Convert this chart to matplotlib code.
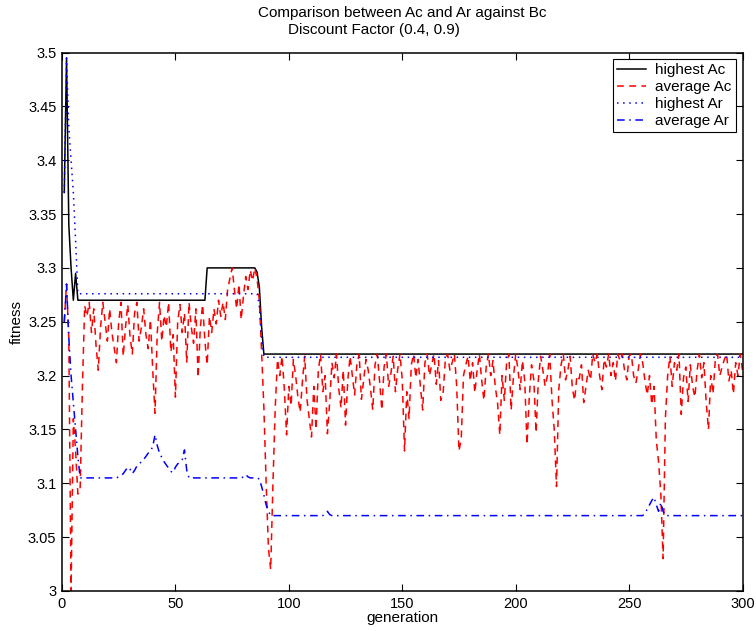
import matplotlib
matplotlib.use('Agg')
import matplotlib.pyplot as plt
from matplotlib.ticker import FormatStrFormatter

plt.rcParams['font.family'] = ['Liberation Sans', 'DejaVu Sans']

# generations 1..300
generations = list(range(1, 301))

highest_ac = ([3.37, 3.495, 3.34, 3.30, 3.27, 3.295]
              + [3.27] * 57
              + [3.30] * 22
              + [3.296, 3.282, 3.245]
              + [3.22] * 212)

highest_ar = ([3.37, 3.495, 3.43, 3.40, 3.37, 3.325]
              + [3.276] * 80
              + [3.265, 3.235]
              + [3.217] * 212)

average_ar = ([3.25, 3.285, 3.235, 3.20, 3.175, 3.15, 3.125, 3.105]
              + [3.105] * 16
              + [3.106, 3.107, 3.109, 3.112, 3.115, 3.113, 3.109, 3.112, 3.116,
                 3.118, 3.120, 3.122, 3.125, 3.128, 3.130, 3.134, 3.145]
              + [3.135, 3.128, 3.124, 3.120, 3.117, 3.114, 3.111, 3.110, 3.115,
                 3.118, 3.120, 3.122, 3.131, 3.112, 3.105]
              + [3.105] * 23
              + [3.106, 3.108, 3.106]
              + [3.105] * 4
              + [3.104, 3.097, 3.089, 3.080, 3.074]
              + [3.07] * 24
              + [3.072, 3.074, 3.071]
              + [3.07] * 138
              + [3.072, 3.076, 3.080, 3.084, 3.087, 3.080, 3.074, 3.082, 3.074]
              + [3.07] * 35)

average_ac = [
    3.250, 3.285, 3.235, 3.000, 3.160, 3.130, 3.090, 3.095, 3.190, 3.265,
    3.255, 3.268, 3.240, 3.262, 3.228, 3.205, 3.245, 3.268, 3.250, 3.232,
    3.262, 3.240, 3.226, 3.212, 3.250, 3.268, 3.218, 3.245, 3.266, 3.236,
    3.220, 3.258, 3.268, 3.232, 3.245, 3.262, 3.238, 3.225, 3.252, 3.205,
    3.165, 3.240, 3.268, 3.232, 3.256, 3.245, 3.268, 3.222, 3.238, 3.180,
    3.250, 3.266, 3.240, 3.258, 3.212, 3.268, 3.245, 3.230, 3.262, 3.198,
    3.245, 3.266, 3.232, 3.210, 3.255, 3.240, 3.262, 3.248, 3.270, 3.255,
    3.268, 3.252, 3.280, 3.290, 3.300, 3.280, 3.262, 3.285, 3.252, 3.274,
    3.292, 3.280, 3.298, 3.288, 3.300, 3.290, 3.270, 3.222, 3.170, 3.100,
    3.040, 3.020, 3.100, 3.170, 3.215, 3.200, 3.218, 3.188, 3.145, 3.190,
    3.172, 3.215, 3.200, 3.180, 3.166, 3.195, 3.218, 3.178, 3.160, 3.143,
    3.190, 3.150, 3.205, 3.220, 3.185, 3.200, 3.146, 3.175, 3.212, 3.198,
    3.220, 3.188, 3.170, 3.205, 3.154, 3.196, 3.218, 3.200, 3.182, 3.210,
    3.220, 3.178, 3.196, 3.215, 3.205, 3.188, 3.168, 3.210, 3.220, 3.195,
    3.168, 3.208, 3.220, 3.190, 3.202, 3.218, 3.185, 3.206, 3.220, 3.196,
    3.130, 3.185, 3.160, 3.210, 3.220, 3.198, 3.215, 3.190, 3.168, 3.212,
    3.220, 3.200, 3.210, 3.220, 3.192, 3.214, 3.177, 3.183, 3.215, 3.220,
    3.205, 3.212, 3.220, 3.190, 3.130, 3.141, 3.200, 3.210, 3.218, 3.195,
    3.212, 3.184, 3.205, 3.220, 3.196, 3.177, 3.208, 3.220, 3.200, 3.214,
    3.190, 3.175, 3.145, 3.200, 3.177, 3.212, 3.220, 3.168, 3.198, 3.220,
    3.206, 3.187, 3.214, 3.195, 3.136, 3.180, 3.210, 3.196, 3.147, 3.196,
    3.218, 3.205, 3.190, 3.200, 3.220, 3.178, 3.150, 3.097, 3.187, 3.210,
    3.220, 3.196, 3.205, 3.218, 3.188, 3.177, 3.200, 3.197, 3.210, 3.175,
    3.190, 3.205, 3.196, 3.220, 3.212, 3.220, 3.200, 3.187, 3.215, 3.208,
    3.220, 3.200, 3.212, 3.195, 3.220, 3.214, 3.220, 3.205, 3.196, 3.218,
    3.220, 3.200, 3.193, 3.205, 3.220, 3.212, 3.195, 3.182, 3.200, 3.173,
    3.190, 3.140, 3.120, 3.090, 3.030, 3.160, 3.200, 3.218, 3.190, 3.212,
    3.205, 3.220, 3.164, 3.198, 3.208, 3.176, 3.210, 3.190, 3.180, 3.205,
    3.220, 3.198, 3.212, 3.175, 3.150, 3.200, 3.183, 3.214, 3.220, 3.200,
    3.208, 3.215, 3.220, 3.195, 3.205, 3.183, 3.212, 3.200, 3.220, 3.205,
]

x_ticks = [0, 50, 100, 150, 200, 250, 300]
y_ticks = [3.0, 3.05, 3.1, 3.15, 3.2, 3.25, 3.3, 3.35, 3.4, 3.45, 3.5]

fig = plt.figure(figsize=(7.56, 6.31), dpi=100)
ax = fig.add_axes([62 / 756, 40 / 631, 680.5 / 756, 538.5 / 631])

ax.plot(generations, highest_ac, color='black', lw=1.1, label='highest Ac')
ax.plot(generations, average_ac, color='red', lw=1.1, dashes=(4.5, 3.5), label='average Ac')
ax.plot(generations, highest_ar, color='blue', lw=1.1, dashes=(1, 3), label='highest Ar')
ax.plot(generations, average_ar, color='blue', lw=1.1, dashes=(5, 3, 1, 3), label='average Ar')

ax.set_xlim(0, 300)
ax.set_ylim(3.0, 3.5)
ax.set_xticks(x_ticks)
ax.set_yticks(y_ticks)
ax.yaxis.set_major_formatter(FormatStrFormatter('%g'))
ax.tick_params(direction='in', top=True, right=True, length=5, width=0.8,
               labelsize=10.5, pad=4)
for s in ax.spines.values():
    s.set_linewidth(1.1)

ax.set_xlabel('generation', fontsize=11, labelpad=0)
ax.set_ylabel('fitness', fontsize=11, labelpad=3)

fig.text(0.532, 0.980, 'Comparison between Ac and Ar against Bc', ha='center', va='center', fontsize=11)
fig.text(0.495, 0.953, 'Discount Factor (0.4, 0.9)', ha='center', va='center', fontsize=11)

leg = ax.legend(loc='upper right', fontsize=11, fancybox=False, framealpha=1,
                edgecolor='black', handlelength=1.9, handletextpad=0.6,
                borderpad=0.25, labelspacing=0.2, borderaxespad=0.45)
leg.get_frame().set_linewidth(0.8)

fig.savefig('out.png', dpi=100)
